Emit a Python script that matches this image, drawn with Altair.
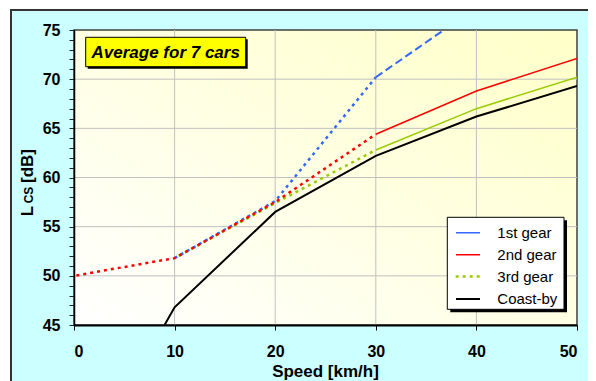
import altair as alt
import pandas as pd

# ---- data ----
speed_ticks = [0, 10, 20, 30, 40, 50]
db_range = [45, 75]
grid_speed = [10, 20, 30, 40]
grid_db = [50, 55, 60, 65, 70]

g1_speed = [10, 20, 30, 40]
g1_db = [51.8, 57.6, 70.2, 77.3]
g2_speed = [0, 10, 20, 30, 40, 50]
g2_db = [50.0, 51.8, 57.5, 64.4, 68.8, 72.1]
g3_speed = [10, 20, 30, 40, 50]
g3_db = [51.8, 57.4, 62.8, 67.0, 70.2]
coast_speed = [9, 10, 20, 30, 40, 50]
coast_db = [45.0, 46.8, 56.5, 62.2, 66.2, 69.3]

series_names = ["1st gear", "2nd gear", "3rd gear", "Coast-by"]
series_colors = ["#3366FF", "#FF0000", "#99CC00", "#000000"]
title_text = "Average for 7 cars"
x_title = "Speed [km/h]"

FONT = "Liberation Sans, Arial, sans-serif"
W, H = 503, 295
PAD = {"left": 66, "top": 22, "right": 11, "bottom": 56}
BREAK = 30  # dotted below this speed, solid/dashed above


def frame(speeds, dbs, low):
    rows = [(s, d) for s, d in zip(speeds, dbs) if (s <= BREAK if low else s >= BREAK)]
    return pd.DataFrame(rows, columns=["speed", "db"])


xs = alt.Scale(domain=[speed_ticks[0], speed_ticks[-1]], nice=False, zero=False)
ys = alt.Scale(domain=db_range, nice=False, zero=False)

x_axis = alt.Axis(values=speed_ticks, title="", grid=False, zindex=1,
                  domainColor="black", domainWidth=2, tickColor="black", tickSize=5,
                  labelFont=FONT, labelFontSize=16, labelFontWeight="bold",
                  labelColor="black", labelPadding=13)
y_axis = alt.Axis(values=list(range(db_range[0], db_range[1] + 1)), title="", grid=False,
                  zindex=1, domainColor="black", domainWidth=1.5, tickColor="#222222",
                  tickSize=5, labelFont=FONT, labelFontSize=16, labelFontWeight="bold",
                  labelColor="black", labelPadding=9,
                  labelExpr="datum.value % 5 == 0 ? datum.label : ''")

X = alt.X("speed:Q", scale=xs, axis=x_axis)
Y = alt.Y("db:Q", scale=ys, axis=y_axis)

one = pd.DataFrame({"k": [0]})

layers = []

# outer cyan frame
layers.append(alt.Chart(one).mark_rect(fill="#CCFFFF", stroke="#333333", strokeWidth=2).encode(
    x=alt.value(-63), x2=alt.value(W + PAD["right"] + 10),
    y=alt.value(-20), y2=alt.value(H + PAD["bottom"] + 10)))

# plot area with gradient
grad = alt.Gradient(gradient="linear",
                    stops=[alt.GradientStop(color="#FFFFFF", offset=0),
                           alt.GradientStop(color="#FFFFC8", offset=1)],
                    x1=0, y1=1, x2=1, y2=0)
layers.append(alt.Chart(one).mark_rect(fill=grad, stroke="#404040", strokeWidth=1.5).encode(
    x=alt.value(0), x2=alt.value(W), y=alt.value(0), y2=alt.value(H)))

# grid lines
layers.append(alt.Chart(pd.DataFrame({"speed": grid_speed})).mark_rule(
    color="#C0C0C0", strokeWidth=1).encode(x=X, y=alt.value(0), y2=alt.value(H)))
layers.append(alt.Chart(pd.DataFrame({"db": grid_db})).mark_rule(
    color="#C0C0C0", strokeWidth=1).encode(y=Y, x=alt.value(0), x2=alt.value(W)))


def line(df, color, width, dash=None, offset=0):
    kw = dict(clip=True, color=color, strokeWidth=width)
    if dash:
        kw["strokeDash"] = dash
        kw["strokeDashOffset"] = offset
    return alt.Chart(df).mark_line(**kw).encode(x=X, y=Y, order="speed:Q")


# solid / dashed upper parts
layers.append(line(frame(g1_speed, g1_db, False), series_colors[0], 2, [8, 4]))
layers.append(line(frame(g2_speed, g2_db, False), series_colors[1], 1.5))
layers.append(line(frame(g3_speed, g3_db, False), series_colors[2], 1.5))
# dotted lower parts
layers.append(line(frame(g1_speed, g1_db, True), series_colors[0], 2.5, [3, 4], 0))
layers.append(line(frame(g3_speed, g3_db, True), series_colors[2], 2.5, [3, 4], 2.3))
layers.append(line(frame(g2_speed, g2_db, True), series_colors[1], 2.5, [3, 4], 4.6))
# coast-by
layers.append(line(pd.DataFrame({"speed": coast_speed, "db": coast_db}), series_colors[3], 2))

# title box
bx0, bx1, by0, by1 = 11.7, 171.7, 7.3, 36.7
layers.append(alt.Chart(one).mark_rect(fill="black").encode(
    x=alt.value(bx0 + 2), x2=alt.value(bx1 + 2), y=alt.value(by0 + 2), y2=alt.value(by1 + 2)))
layers.append(alt.Chart(one).mark_rect(fill="#FFFF00", stroke="black", strokeWidth=1).encode(
    x=alt.value(bx0), x2=alt.value(bx1), y=alt.value(by0), y2=alt.value(by1)))
layers.append(alt.Chart(one).mark_text(text=title_text, font=FONT, fontSize=17, fontWeight="bold",
                                       fontStyle="italic", color="black", align="center",
                                       baseline="middle").encode(
    x=alt.value((bx0 + bx1) / 2), y=alt.value((by0 + by1) / 2 + 0.5)))

# legend
lx0, lx1, ly0, ly1 = 373.3, 490.0, 187.3, 279.3
layers.append(alt.Chart(one).mark_rect(fill="black").encode(
    x=alt.value(lx0 + 3), x2=alt.value(lx1 + 3), y=alt.value(ly0 + 3), y2=alt.value(ly1 + 3)))
layers.append(alt.Chart(one).mark_rect(fill="white", stroke="black", strokeWidth=1).encode(
    x=alt.value(lx0), x2=alt.value(lx1), y=alt.value(ly0), y2=alt.value(ly1)))
for i, (name, col) in enumerate(zip(series_names, series_colors)):
    yy = 202.5 + 22 * i
    if i == 2:
        layers.append(alt.Chart(one).mark_rule(color=col, strokeWidth=2.5, strokeDash=[3, 4]).encode(
            x=alt.value(381.7), x2=alt.value(406), y=alt.value(yy)))
    else:
        top = int(yy)
        layers.append(alt.Chart(one).mark_rect(fill=col).encode(
            x=alt.value(382), x2=alt.value(406),
            y=alt.value(top), y2=alt.value(top + (2 if i == 3 else 1.5))))
    layers.append(alt.Chart(one).mark_text(text=name, font=FONT, fontSize=15, color="black",
                                           align="left", baseline="middle").encode(
        x=alt.value(423.3), y=alt.value(yy)))

# y-axis title: L_CS [dB]
layers.append(alt.Chart(one).mark_text(text="L", font=FONT, fontSize=17, fontWeight="bold",
                                       color="black", angle=270, align="center",
                                       baseline="middle").encode(
    x=alt.value(-46.5), y=alt.value(181)))
layers.append(alt.Chart(one).mark_text(text="CS", font=FONT, fontSize=12, fontWeight="bold",
                                       color="black", angle=270, align="center",
                                       baseline="middle").encode(
    x=alt.value(-45.5), y=alt.value(165)))
layers.append(alt.Chart(one).mark_text(text="[dB]", font=FONT, fontSize=17, fontWeight="bold",
                                       color="black", angle=270, align="center",
                                       baseline="middle").encode(
    x=alt.value(-46.5), y=alt.value(136)))

# x-axis title
layers.append(alt.Chart(one).mark_text(text=x_title, font=FONT, fontSize=17, fontWeight="bold",
                                       color="black", align="center",
                                       baseline="alphabetic").encode(
    x=alt.value(W / 2), y=alt.value(347)))

chart = alt.layer(*layers).properties(
    width=W, height=H,
    autosize=alt.AutoSizeParams(type="none"),
    padding=PAD,
    background="white",
).configure_view(strokeWidth=0)

chart.save("out.html", embed_options={"renderer": "svg", "actions": False})
